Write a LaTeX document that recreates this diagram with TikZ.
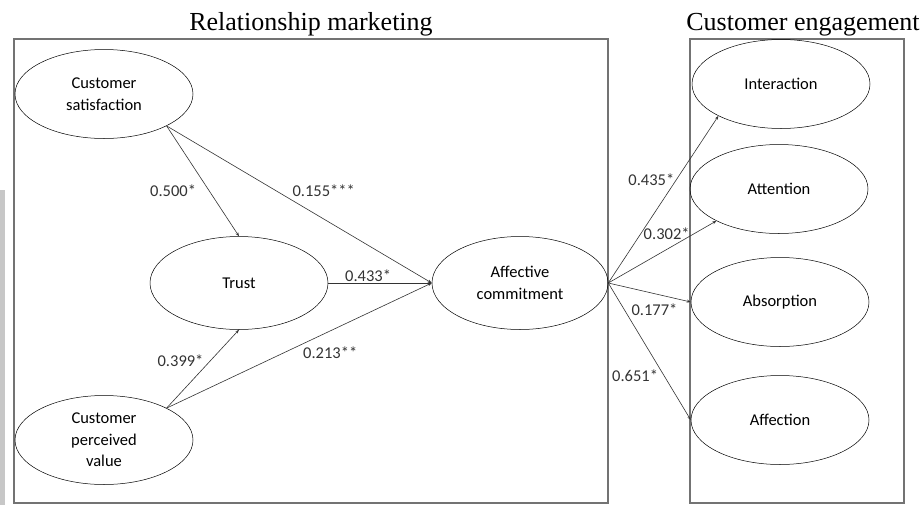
\documentclass[tikz,border=0pt]{standalone}
\usepackage{fontspec}
\setmainfont{Carlito}
\newfontfamily\titlefont{Liberation Serif}
\usetikzlibrary{arrows.meta,positioning,shapes.geometric}

\begin{document}
\begin{tikzpicture}[
  x=1pt, y=-1pt,
  construct/.style={draw, ellipse, line width=0.5pt, minimum width=178pt, minimum height=89pt, inner sep=0pt,
    align=center, font=\fontsize{16.5}{21.5}\selectfont},
  path/.style={-{Stealth[length=4pt, width=3pt]}, line width=0.6pt, black!80},
  coef/.style={font=\fontsize{16.5}{18}\selectfont, inner sep=1pt},
  group/.style={draw=black!55, line width=1.3pt},
  heading/.style={font=\titlefont\fontsize{26}{28}\selectfont, anchor=base, inner sep=0pt},
]
  \useasboundingbox (0,0) rectangle (923,512);

  % Scan edge on the left
  \fill[black!22] (0,190) rectangle (5,505);

  % Group boxes
  \draw[group] (14,39) rectangle (608,503);
  \draw[group] (690,39) rectangle (904,503);
  \node[heading] (rmtitle) at (311,30) {Relationship marketing};
  \node[heading] (cetitle) at (803,30) {Customer engagement};

  % Relationship marketing constructs
  \node[construct] (cs) at (104,94) {Customer\\satisfaction};
  \node[construct, minimum height=93pt] (trust) at (239,283) {Trust};
  \node[construct] (cpv) at (104,440) {Customer\\perceived\\value};
  \node[construct, minimum width=176pt, minimum height=93pt] (ac) at (520,283) {Affective\\commitment};

  % Customer engagement constructs
  \node[construct] (inter) at (781,84) {Interaction};
  \node[construct] (atten) at (779,189) {Attention};
  \node[construct] (absor) at (780,302) {Absorption};
  \node[construct] (affec) at (780,420) {Affection};

  % Paths into trust and commitment
  \draw[path] (cs.-27) -- (trust.north) node[coef, pos=0.59, left=12pt] {0.500*};
  \draw[path] (cs.-27) -- (ac.west) node[coef, pos=0.47, anchor=south west, yshift=2pt] {0.155***};
  \draw[path] (trust.east) -- (ac.west) node[coef, pos=0.385, above] {0.433*};
  \draw[path] (cpv.27) -- (trust.south) node[coef, pos=0.61, left=6pt] {0.399*};
  \draw[path] (cpv.27) -- (ac.west) node[coef, pos=0.617, below=15pt] {0.213**};

  % Paths into engagement
  \draw[path] (ac.east) -- (inter.207) node[coef, pos=0.62, left=1pt] {0.435*};
  \draw[path] (ac.east) -- (atten.207) node[coef, pos=0.54, above=9pt] {0.302*};
  \draw[path] (ac.east) -- (absor.west) node[coef, pos=0.56, below=9pt] {0.177*};
  \draw[path] (ac.east) -- (affec.west) node[coef, pos=0.68, left=5pt] {0.651*};
\end{tikzpicture}
\end{document}
